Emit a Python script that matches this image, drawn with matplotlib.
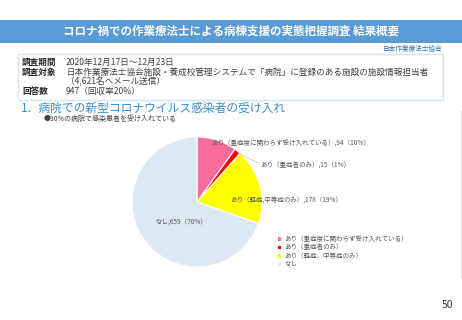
import matplotlib
matplotlib.use("Agg")
import matplotlib.pyplot as plt
from matplotlib.patches import Rectangle
from matplotlib.lines import Line2D

plt.rcParams['font.family'] = ['Noto Sans CJK JP', 'DejaVu Sans']

categories = ["あり（重症度に関わらず受け入れている）", "あり（重症者のみ）", "あり（軽症、中等症のみ）", "なし"]
label_names = ["あり（重症度に関わらず受け入れている）", "あり（重症者のみ）", "あり（軽症,中等症のみ）", "なし"]
values = [94, 15, 178, 659]
percents = ["10%", "1%", "19%", "70%"]
colors = ["#FA6C9E", "#FF0000", "#FFFF00", "#DDE8F5"]

W, H = 462, 320
fig = plt.figure(figsize=(W / 100, H / 100), dpi=100)
fig.patch.set_facecolor("white")

def fx(px):
    return px / W

def fy(py):
    return 1 - py / H

# Title bar
fig.patches.append(Rectangle((0, fy(43)), 1, (43 - 20) / H, transform=fig.transFigure,
                             facecolor="#5B9BD5", edgecolor="none"))
fig.text(fx(231), fy(31.5), "コロナ禍での作業療法士による病棟支援の実態把握調査 結果概要",
         ha="center", va="center", color="white", fontsize=8.3, fontweight="bold")
fig.text(fx(443), fy(48.5), "日本作業療法士協会", ha="right", va="center",
         color="#2E75B6", fontsize=4.8)

# Info box
fig.patches.append(Rectangle((fx(18), fy(100)), fx(443) - fx(18), (100 - 54) / H,
                             transform=fig.transFigure, facecolor="none",
                             edgecolor="#D6E3F3", linewidth=1.0))
info_rows = [
    (62, "調査期間", "2020年12月17日～12月23日"),
    (72, "調査対象", "日本作業療法士協会施設・養成校管理システムで「病院」に登録のある施設の施設情報担当者"),
    (82, "", "（4,621名へメール送信）"),
    (91.5, "回答数", "947（回収率20%）"),
]
for py, key, val in info_rows:
    if key:
        fig.text(fx(22), fy(py), key, ha="left", va="center", fontsize=6.2,
                 fontweight="bold", color="#262626")
    fig.text(fx(66), fy(py), val, ha="left", va="center", fontsize=6.2, color="#404040")

# Heading
fig.text(fx(21), fy(108), "1．病院での新型コロナウイルス感染者の受け入れ", ha="left", va="center",
         fontsize=8.5, color="#3A8DD0")
fig.text(fx(44), fy(119), "●30%の病院で感染患者を受け入れている", ha="left", va="center",
         fontsize=5.0, color="#404040")

# Pie
cx, cy, r = 197, 202, 65
ax = fig.add_axes([fx(cx - r), fy(cy + r), 2 * r / W, 2 * r / H])
ax.pie(values, colors=colors, startangle=90, counterclock=False,
       wedgeprops=dict(edgecolor="white", linewidth=0.8))
ax.set_xlim(-1, 1)
ax.set_ylim(-1, 1)
ax.set_aspect("equal")
ax.axis("off")

def dx(px):
    return (px - cx) / r

def dy(py):
    return (cy - py) / r

label_pos = [(211, 143), (260, 165), (230, 199.5), (155, 222)]
for (px, py), name, v, p in zip(label_pos, label_names, values, percents):
    ax.text(dx(px), dy(py), f"{name},{v}（{p}）", ha="left", va="center",
            fontsize=4.7, color="#595959", clip_on=False)
ax.add_line(Line2D([dx(238), dx(258)], [dy(153), dy(163)], color="#BFBFBF",
                   linewidth=0.5, clip_on=False))

# Legend
leg_y = [239, 247.5, 256, 264.5]
for py, name, c in zip(leg_y, categories, colors):
    fig.patches.append(Rectangle((fx(277.5), fy(py + 1.6)), 3.2 / W, 3.2 / H,
                                 transform=fig.transFigure, facecolor=c, edgecolor="none"))
    fig.text(fx(284), fy(py), name, ha="left", va="center", fontsize=4.7, color="#595959")

# faint right border of chart area
fig.lines.append(Line2D([fx(460.5), fx(460.5)], [fy(110), fy(278)], transform=fig.transFigure,
                        color="#E0E0E0", linewidth=0.6))

# Page number
fig.text(fx(447), fy(305), "50", ha="center", va="center", fontsize=7.5, color="#404040")

fig.savefig("out.png", dpi=100)
